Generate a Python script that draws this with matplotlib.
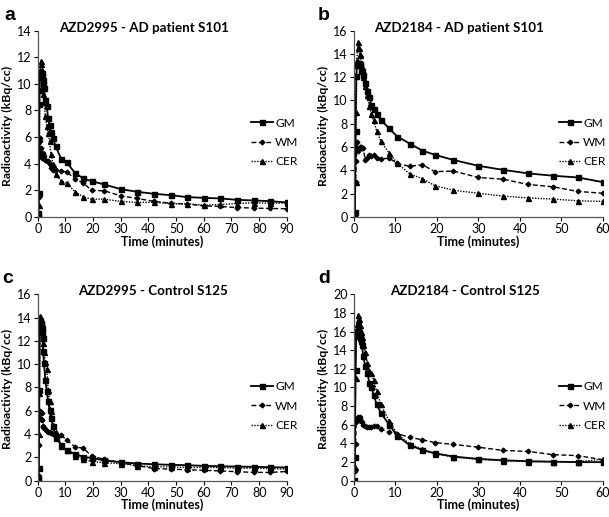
import matplotlib
matplotlib.use("Agg")
import matplotlib.pyplot as plt

plt.rcParams["font.family"] = ["Lato", "DejaVu Sans"]

# frame mid-times (minutes)
t = [0.08, 0.25, 0.42, 0.58, 0.75, 0.92, 1.08, 1.25, 1.42, 1.58, 1.75, 1.92,
     2.25, 2.75, 3.25, 3.75, 4.25, 4.75, 5.5, 6.5, 8.5, 10.5, 13.5, 16.5,
     19.5, 24, 30, 36, 42, 48, 54, 60, 66, 72, 78, 84, 90]

# a: AZD2995 - AD patient S101
gm_a = [0.1, 0.3, 1.8, 8.5, 10.7, 10.9, 10.8, 10.7, 10.8, 10.6, 10.3, 10.0,
        9.7, 8.8, 8.3, 7.4, 6.9, 6.4, 5.9, 5.3, 4.35, 4.1, 3.3, 2.9,
        2.7, 2.45, 2.1, 1.9, 1.75, 1.65, 1.5, 1.45, 1.4, 1.3, 1.25, 1.2, 1.1]
wm_a = [0.0, 0.3, 1.5, 4.8, 5.9, 5.7, 5.2, 4.6, 4.4, 4.5, 4.7, 4.8,
        4.6, 4.3, 4.2, 4.2, 4.0, 3.7, 3.55, 3.5, 3.45, 3.4, 2.85, 2.55,
        2.0, 1.98, 1.6, 1.4, 1.18, 1.05, 0.98, 0.85, 0.8, 0.72, 0.68, 0.65, 0.63]
cer_a = [0.0, 0.3, 0.9, 5.0, 9.5, 11.0, 11.7, 11.5, 11.0, 10.5, 9.8, 9.2,
         8.6, 7.6, 6.8, 6.3, 5.7, 4.7, 4.0, 3.2, 2.7, 2.55, 1.9, 1.5,
         1.35, 1.35, 1.18, 1.1, 1.12, 1.0, 1.0, 0.9, 0.95, 1.02, 1.08, 1.05, 1.05]

# b: AZD2184 - AD patient S101
gm_b = [0.1, 0.4, 7.4, 12.1, 13.0, 13.1, 13.2, 13.2, 13.1, 13.0, 12.6, 12.5,
        12.2, 11.5, 10.8, 10.3, 9.6, 9.3, 8.8, 8.35, 7.6, 6.9, 6.3, 5.7,
        5.35, 4.9, 4.4, 4.05, 3.75, 3.55, 3.4, 3.0]
wm_b = [0.1, 0.3, 3.0, 4.8, 6.4, 5.7, 5.8, 5.9, 6.0, 5.9, 6.0, 5.9,
        5.9, 4.9, 5.1, 5.3, 5.2, 5.3, 5.1, 5.0, 5.05, 4.6, 4.35, 4.5,
        3.9, 3.95, 3.4, 3.25, 2.8, 2.6, 2.2, 2.05]
cer_b = [0.0, 0.2, 3.0, 9.0, 13.5, 14.5, 15.0, 14.5, 14.0, 13.9, 13.0, 12.5,
         12.0, 11.2, 10.5, 9.5, 8.8, 8.3, 7.4, 6.5, 5.5, 4.6, 3.7, 3.3,
         2.7, 2.3, 2.05, 1.8, 1.65, 1.55, 1.4, 1.35]

# c: AZD2995 - Control S125
gm_c = [0.1, 0.3, 1.1, 7.8, 13.5, 13.7, 13.5, 13.4, 13.1, 12.8, 12.2, 11.1,
        10.1, 8.6, 7.7, 6.8, 6.1, 5.4, 4.7, 3.7, 3.1, 2.6, 2.3, 2.05,
        1.95, 1.75, 1.6, 1.48, 1.42, 1.37, 1.34, 1.28, 1.25, 1.22, 1.2, 1.17, 1.14]
wm_c = [0.1, 0.5, 3.1, 5.4, 6.0, 5.9, 5.3, 5.3, 5.8, 5.2, 4.7, 4.6,
        4.5, 4.4, 4.3, 4.2, 4.15, 4.1, 4.05, 4.0, 3.9, 3.5, 2.9, 2.8,
        2.1, 1.85, 1.55, 1.3, 1.05, 1.0, 0.95, 0.9, 0.85, 0.78, 0.72, 0.72, 0.8]
cer_c = [0.0, 0.5, 4.0, 7.5, 13.0, 14.1, 13.9, 13.6, 13.3, 13.1, 12.6, 11.8,
         11.0, 10.2, 9.6, 7.8, 6.8, 6.0, 4.8, 4.2, 3.0, 2.6, 2.15, 1.85,
         1.65, 1.55, 1.48, 1.3, 1.2, 1.2, 1.14, 1.14, 1.14, 1.08, 1.08, 1.05, 1.0]

# d: AZD2184 - Control S125
gm_d = [0.1, 2.5, 11.9, 16.0, 16.1, 16.2, 16.0, 15.9, 15.6, 15.3, 15.0, 14.6,
        13.4, 12.3, 11.6, 10.5, 10.0, 9.2, 8.2, 7.3, 6.0, 4.8, 3.8, 3.3,
        2.95, 2.6, 2.35, 2.2, 2.1, 2.05, 2.0, 2.0]
wm_d = [0.1, 1.1, 3.9, 6.3, 6.6, 6.8, 6.7, 6.5, 6.8, 6.6, 6.4, 6.3,
        6.0, 5.9, 5.8, 5.8, 5.8, 5.9, 5.9, 5.5, 5.2, 5.05, 4.65, 4.4,
        4.1, 3.9, 3.6, 3.25, 3.15, 2.8, 2.7, 2.25]
cer_d = [0.1, 1.5, 11.0, 15.5, 16.8, 17.2, 17.8, 17.3, 16.7, 16.2, 15.9, 15.4,
         14.5, 13.8, 12.6, 11.8, 11.5, 10.8, 9.6, 8.2, 6.4, 5.0, 3.95, 3.4,
         2.9, 2.55, 2.3, 2.15, 2.05, 2.05, 2.05, 2.3]

panels = [
    ("a", "AZD2995 - AD patient S101", gm_a, wm_a, cer_a, 90, 14),
    ("b", "AZD2184 - AD patient S101", gm_b, wm_b, cer_b, 60, 16),
    ("c", "AZD2995 - Control S125", gm_c, wm_c, cer_c, 90, 16),
    ("d", "AZD2184 - Control S125", gm_d, wm_d, cer_d, 60, 20),
]

# axes boxes in figure fraction [left, bottom, width, height]
boxes = [
    [0.062, 0.580, 0.409, 0.361],
    [0.581, 0.580, 0.409, 0.361],
    [0.062, 0.070, 0.409, 0.361],
    [0.581, 0.070, 0.409, 0.361],
]
letter_pos = [(0.008, 0.987), (0.522, 0.987), (0.004, 0.477), (0.522, 0.477)]
title_x = [0.426, 0.424, 0.462, 0.446]
legend_x = [0.855, 0.822, 0.855, 0.822]

fig = plt.figure(figsize=(6.09, 5.17), dpi=100)

for i, (letter, title, gm, wm, cer, xmax, ymax) in enumerate(panels):
    ax = fig.add_axes(boxes[i])
    n = len(gm)
    tt = t[:n]
    ax.plot(tt, gm, color="black", lw=1.3, ls="-", marker="s", ms=3.6, label="GM")
    ax.plot(tt, wm, color="black", lw=1.0, ls=(0, (3.5, 1.8)), marker="D", ms=2.4,
            label="WM")
    ax.plot(tt, cer, color="black", lw=1.0, ls=(0, (1, 1)), marker="^", ms=3.6,
            label="CER")
    ax.set_xlim(0, xmax)
    ax.set_ylim(0, ymax)
    ax.set_xticks(range(0, xmax + 1, 10))
    ax.set_yticks(range(0, ymax + 1, 2))
    for s in ("top", "right"):
        ax.spines[s].set_visible(False)
    for s in ("left", "bottom"):
        ax.spines[s].set_linewidth(0.9)
        ax.spines[s].set_color("#555555")
    ax.tick_params(direction="out", length=3, width=0.8, labelsize=9, pad=1.5,
                   colors="black")
    ax.set_xlabel("Time (minutes)", fontsize=9, fontweight="bold")
    ax.set_ylabel("Radioactivity (kBq/cc)", fontsize=8.8, fontweight="bold")
    ax.xaxis.set_label_coords(0.5, -0.095)
    ax.yaxis.set_label_coords(-0.098, 0.49)
    ax.text(title_x[i], 1.015, title, transform=ax.transAxes, ha="center",
            va="center", fontsize=9.6, fontweight="bold")
    fig.text(letter_pos[i][0], letter_pos[i][1], letter, fontsize=14,
             fontweight="bold", family=["Liberation Sans", "DejaVu Sans"],
             va="top", ha="left")
    ax.legend(loc="center left", bbox_to_anchor=(legend_x[i], 0.40),
              frameon=False, fontsize=8.6, handlelength=1.9,
              handletextpad=0.15, labelspacing=0.7, borderpad=0,
              borderaxespad=0)

fig.savefig("out.png", dpi=100)
